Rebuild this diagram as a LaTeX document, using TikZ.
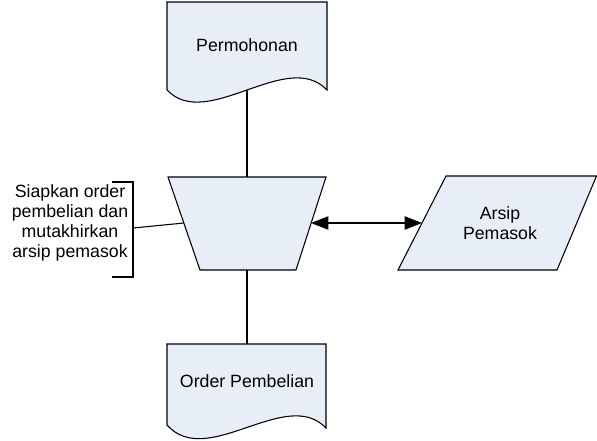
\documentclass[tikz,border=0pt]{standalone}
\usepackage{fontspec}
\setmainfont{Liberation Sans}
\usetikzlibrary{arrows.meta}
\definecolor{shapefill}{RGB}{232,238,248}
\tikzset{
  shapeline/.style={draw=black, line width=0.8pt, fill=shapefill, line join=miter},
  conn/.style={draw=black, line width=0.8pt},
  both/.style={conn, {Triangle[length=13pt,width=10pt]}-{Triangle[length=13pt,width=10pt]}},
  label/.style={font=\fontsize{13.3}{14.8}\selectfont, align=center, inner sep=0pt}
}
\begin{document}
\begin{tikzpicture}[x=0.75pt, y=-0.75pt]
  \useasboundingbox (0,0) rectangle (597,440);

  % input document
  \draw[shapeline] (167,2) -- (327,2) -- (327,90)
    .. controls (287,48) and (207,132) .. (167,90) -- cycle;
  \node[label] (perm) at (247,45) {Permohonan};
  \coordinate (perm-b) at (247,90);

  % manual operation (trapezoid)
  \draw[shapeline] (168,177) -- (326,177) -- (296,270) -- (200,270) -- cycle;
  \coordinate (op-t) at (247,177);
  \coordinate (op-b) at (247,270);
  \coordinate (op-l) at (184,223);
  \coordinate (op-r) at (311,223);

  % supplier file (parallelogram)
  \draw[shapeline] (446,176) -- (596.5,176) -- (557,270) -- (398,270) -- cycle;
  \node[label] (arsip) at (500,223) {Arsip\\Pemasok};
  \coordinate (arsip-l) at (422,223);

  % output document
  \draw[shapeline] (167,344) -- (326,344) -- (326,428)
    .. controls (286,386) and (207,470) .. (167,425) -- cycle;
  \node[label] (order) at (247,381) {Order Pembelian};
  \coordinate (order-t) at (247,344);

  % annotation bracket
  \draw[conn] (112,182) -- (133,182) -- (133,277) -- (112,277);
  \coordinate (note-r) at (133,228);
  \node[label] (note) at (70,223) {Siapkan order\\pembelian dan\\mutakhirkan\\arsip pemasok};

  % connectors
  \draw[conn] (perm-b) -- (op-t);
  \draw[conn] (op-b) -- (order-t);
  \draw[conn] (note-r) -- (op-l);
  \draw[both] (op-r) -- (arsip-l);
\end{tikzpicture}
\end{document}
